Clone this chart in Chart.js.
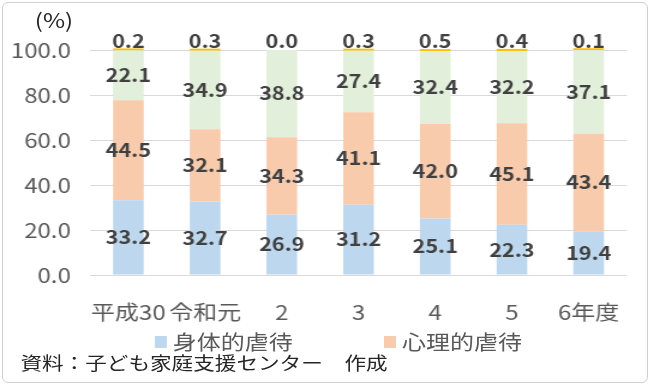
<!DOCTYPE html>
<html lang="ja">
<head>
<meta charset="UTF-8">
<title>虐待の種類別割合</title>
<script src="https://cdn.jsdelivr.net/npm/chart.js"></script>
<style>
  body { margin: 0; background: #fff; font-family: "Noto Sans CJK JP", sans-serif; }
  #cadre { position: absolute; left: 2px; top: 2px; width: 644px; height: 379px; border: 1px solid #d0d0d0; border-radius: 6px; }
  /* le graphique d'origine est étiré horizontalement */
  #scene { position: absolute; left: 0; top: 0; width: 542px; height: 385px; transform: scaleX(1.2); transform-origin: 0 0; }
  #unite { position: absolute; left: 29px; top: 7px; font-size: 20px; color: #262626; line-height: 26px; }
  #legende { position: absolute; left: 129px; top: 330px; display: flex; gap: 76px; font-size: 20px; color: #595959; line-height: 24px; }
  #legende span.item { display: flex; align-items: center; }
  #legende span.boite { display: inline-block; width: 10px; height: 12px; margin-right: 5px; }
  #source { position: absolute; left: 17px; top: 350px; font-size: 18px; color: #262626; line-height: 24px; white-space: pre; }
</style>
</head>
<body>
<div id="cadre"></div>
<div id="scene">
  <canvas id="graphique" width="542" height="385"></canvas>
  <div id="unite">(%)</div>
  <div id="legende"></div>
  <div id="source">資料：子ども家庭支援センター　作成</div>
</div>
<script>
// Données (en %)
const annees = ['平成30', '令和元', '2', '3', '4', '5', '6年度'];
const physique = [33.2, 32.7, 26.9, 31.2, 25.1, 22.3, 19.4];
const psychologique = [44.5, 32.1, 34.3, 41.1, 42.0, 45.1, 43.4];
const negligence = [22.1, 34.9, 38.8, 27.4, 32.4, 32.2, 37.1];
const sexuel = [0.2, 0.3, 0.0, 0.3, 0.5, 0.4, 0.1];
const graduations = [0, 20, 40, 60, 80, 100];

// Étiquettes de valeurs au centre de chaque segment (le jaune au-dessus)
const etiquettes = {
    id: 'etiquettes',
    afterDatasetsDraw(chart) {
        const ctx = chart.ctx;
        ctx.save();
        ctx.font = 'bold 18px "Noto Sans CJK JP"';
        ctx.fillStyle = '#404040';
        ctx.textAlign = 'center';
        ctx.textBaseline = 'middle';
        chart.data.datasets.forEach((ds, i) => {
            chart.getDatasetMeta(i).data.forEach((bar, j) => {
                const y = i === 3 ? chart.chartArea.top - 9 : (bar.y + bar.base) / 2;
                ctx.fillText(ds.data[j].toFixed(1), bar.x, y);
            });
        });
        ctx.restore();
    }
};

const chart = new Chart(document.getElementById('graphique'), {
    type: 'bar',
    data: {
        labels: annees,
        datasets: [
            { label: '身体的虐待', data: physique, backgroundColor: '#BDD7EE' },
            { label: '心理的虐待', data: psychologique, backgroundColor: '#F8CBAD' },
            { label: 'ネグレクト', data: negligence, backgroundColor: '#E2EFDA' },
            {
                label: '性的虐待', data: sexuel, minBarLength: 2, clip: false,
                backgroundColor: c => c.raw === 0 ? 'rgba(0,0,0,0)' : '#FFC000'
            }
        ]
    },
    options: {
        responsive: false,
        animation: false,
        events: [],
        layout: { padding: { top: 50, right: 13, bottom: 60, left: 0 } },
        datasets: { bar: { categoryPercentage: 1, barPercentage: 0.4 } },
        plugins: { legend: { display: false }, tooltip: { enabled: false } },
        scales: {
            x: {
                stacked: true,
                grid: { display: false, drawTicks: false },
                border: { display: false },
                ticks: { color: '#595959', padding: 25, autoSkip: false, maxRotation: 0, font: { family: '"Noto Sans CJK JP"', size: 20 } },
                afterFit: s => { s.height = 50; }
            },
            y: {
                stacked: true,
                min: 0,
                max: 100,
                afterBuildTicks: s => { s.ticks = graduations.map(v => ({ value: v })); },
                grid: { color: '#d9d9d9', drawTicks: false },
                border: { display: false },
                ticks: { color: '#595959', padding: 16, callback: v => v.toFixed(1), font: { family: '"Noto Sans CJK JP"', size: 20 } },
                afterFit: s => { s.width = 75; }
            }
        }
    },
    plugins: [etiquettes]
});

// Légende HTML : seulement les deux premières séries, comme sur l'original
const legende = document.getElementById('legende');
chart.data.datasets.slice(0, 2).forEach(ds => {
    const item = document.createElement('span');
    item.className = 'item';
    item.innerHTML = '<span class="boite" style="background:' + ds.backgroundColor + '"></span>' + ds.label;
    legende.appendChild(item);
});
</script>
</body>
</html>
